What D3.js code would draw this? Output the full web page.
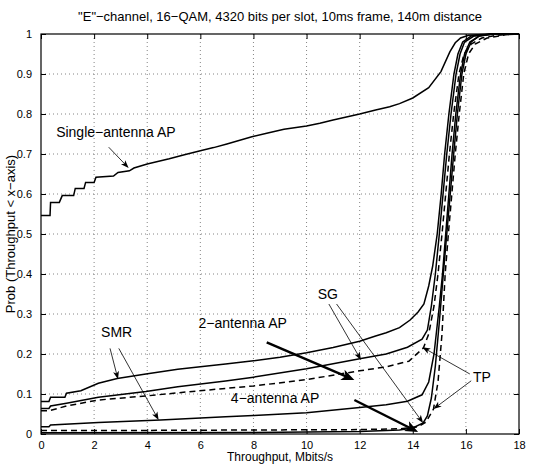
<html>
<script src="https://d3js.org/d3.v7.min.js"></script>
<style>
body { margin: 0; background-color: #fff; }
text { font-family: "Liberation Sans", Arial, Helvetica, sans-serif; fill: #000; }
</style>
<body>
<svg id="chart"></svg>
<script>

// axis ticks
var xTicks = [0, 2, 4, 6, 8, 10, 12, 14, 16, 18];
var yTicks = [0, 0.1, 0.2, 0.3, 0.4, 0.5, 0.6, 0.7, 0.8, 0.9, 1];
var yTickLabels = ["0", "0.1", "0.2", "0.3", "0.4", "0.5", "0.6", "0.7", "0.8", "0.9", "1"];

// CDF curves, [throughput, prob]
var singleAP = [[0,0.546],[0.34,0.546],[0.36,0.579],[0.69,0.579],[0.8,0.596],[1.23,0.596],[1.29,0.614],[1.62,0.614],[1.68,0.629],[2.0,0.629],[2.07,0.642],[2.73,0.645],[2.9,0.654],[3.33,0.658],[3.5,0.665],[4,0.675],[4.83,0.688],[5.4,0.698],[6,0.708],[6.5,0.716],[7,0.725],[7.94,0.743],[8.5,0.752],[9.15,0.762],[10,0.77],[10.5,0.777],[11,0.785],[12,0.8],[12.6,0.81],[13.13,0.818],[13.5,0.826],[14,0.84],[14.6,0.866],[15.06,0.906],[15.4,0.956],[15.6,0.978],[15.8,0.99],[16.1,0.997],[17,1],[18,1]];

var smr2 = [[0,0.081],[0.3,0.081],[0.36,0.092],[0.9,0.092],[0.96,0.102],[1.5,0.108],[2.16,0.127],[2.87,0.139],[3.95,0.15],[5.15,0.162],[6,0.168],[6.95,0.175],[8,0.183],[9,0.192],[10,0.203],[11,0.216],[12,0.232],[12.6,0.245],[13,0.253],[13.5,0.266],[13.9,0.285],[14.2,0.305],[14.42,0.325],[14.6,0.37],[14.75,0.42],[14.92,0.5],[15.07,0.6],[15.2,0.7],[15.36,0.8],[15.55,0.9],[15.7,0.95],[15.88,0.98],[16.2,0.995],[17,1],[18,1]];

var sg2 = [[0,0.064],[0.3,0.064],[0.36,0.07],[0.96,0.077],[2.16,0.092],[3.95,0.106],[5.15,0.118],[6.95,0.1325],[8,0.142],[10,0.163],[12,0.188],[13,0.2],[13.8,0.217],[14.35,0.237],[14.55,0.26],[14.7,0.32],[14.85,0.4],[15.0,0.5],[15.14,0.6],[15.28,0.7],[15.44,0.8],[15.63,0.9],[15.78,0.95],[15.95,0.98],[16.3,0.995],[17,1],[18,1]];

var tp2 = [[0,0.058],[0.3,0.058],[0.96,0.07],[2.16,0.085],[3.95,0.095],[5.15,0.103],[6.95,0.114],[8,0.12],[10,0.136],[12,0.158],[13,0.168],[13.85,0.182],[14.4,0.215],[14.6,0.25],[14.8,0.32],[14.95,0.4],[15.1,0.5],[15.24,0.6],[15.38,0.7],[15.54,0.8],[15.74,0.9],[15.93,0.95],[16.2,0.975],[16.6,0.99],[17.2,0.997],[18,1]];

var smr4 = [[0,0.018],[0.3,0.018],[0.36,0.0225],[2.16,0.029],[4.5,0.035],[6.95,0.043],[8,0.046],[10,0.053],[12,0.066],[13,0.073],[13.8,0.082],[14.35,0.098],[14.6,0.13],[14.8,0.2],[15.0,0.32],[15.12,0.4],[15.24,0.5],[15.36,0.6],[15.48,0.7],[15.62,0.8],[15.8,0.9],[15.95,0.95],[16.15,0.98],[16.5,0.995],[17,1],[18,1]];

var sg4 = [[0,0.003],[8,0.004],[12,0.006],[13.5,0.01],[14,0.015],[14.39,0.0275],[14.55,0.045],[14.7,0.09],[14.85,0.17],[15.0,0.28],[15.15,0.4],[15.28,0.5],[15.41,0.6],[15.54,0.7],[15.68,0.8],[15.85,0.9],[16.0,0.95],[16.2,0.98],[16.5,0.995],[17,1],[18,1]];

var tp4 = [[0,0.009],[4,0.009],[8,0.01],[12,0.011],[13.5,0.013],[14.2,0.018],[14.5,0.03],[14.78,0.0625],[14.95,0.13],[15.1,0.25],[15.22,0.4],[15.34,0.5],[15.47,0.6],[15.6,0.7],[15.75,0.8],[15.92,0.9],[16.1,0.95],[16.35,0.975],[16.8,0.99],[17.5,0.998],[18,1]];

var titleText = "\"E\"\u2212channel, 16\u2212QAM, 4320 bits per slot, 10ms frame, 140m distance";
var xLabel = "Throughput, Mbits/s";
var yLabel = "Prob (Throughput < x\u2212axis)";

// set the dimensions and margins of the graph
var margin = {top: 34, right: 27, bottom: 30, left: 41},
    W = 546, H = 464,
    width = W - margin.left - margin.right,
    height = H - margin.top - margin.bottom;

var svg0 = d3.select("#chart").attr("width", W).attr("height", H);
var svg = svg0.append("g")
    .attr("transform", "translate(" + margin.left + "," + margin.top + ")");

var x = d3.scaleLinear().domain([0, 18]).range([0, width]);
var y = d3.scaleLinear().domain([0, 1]).range([height, 0]);

// dotted grid
svg.append("g").selectAll("line.gx")
  .data(xTicks.slice(1, -1)).enter().append("line")
    .attr("x1", d => x(d)).attr("x2", d => x(d))
    .attr("y1", 0).attr("y2", height)
    .attr("stroke", "#666").attr("stroke-width", 0.8)
    .attr("stroke-dasharray", "1,3");
svg.append("g").selectAll("line.gy")
  .data(yTicks.slice(1, -1)).enter().append("line")
    .attr("y1", d => y(d)).attr("y2", d => y(d))
    .attr("x1", 0).attr("x2", width)
    .attr("stroke", "#666").attr("stroke-width", 0.8)
    .attr("stroke-dasharray", "1,3");

// axes, ticks pointing inward like matlab
function styleAxis(g) {
  g.select(".domain").remove();
  g.selectAll(".tick line").attr("stroke", "#000");
  g.selectAll(".tick text").style("font-size", "11px").style("font-family", "Liberation Sans, Arial, sans-serif");
}
svg.append("g")
  .attr("transform", "translate(0," + height + ")")
  .call(d3.axisBottom(x).tickValues(xTicks).tickSize(-5).tickPadding(7))
  .call(styleAxis);
svg.append("g")
  .call(d3.axisTop(x).tickValues(xTicks).tickSize(-5).tickFormat(""))
  .call(styleAxis);
svg.append("g")
  .call(d3.axisLeft(y).tickValues(yTicks).tickSize(-5).tickPadding(9)
    .tickFormat((d, i) => yTickLabels[i]))
  .call(styleAxis);
svg.append("g")
  .attr("transform", "translate(" + width + ",0)")
  .call(d3.axisRight(y).tickValues(yTicks).tickSize(-5).tickFormat(""))
  .call(styleAxis);

// box
svg.append("rect")
  .attr("width", width).attr("height", height)
  .attr("fill", "none").attr("stroke", "#000").attr("stroke-width", 1.2);

// curves
var line = d3.line().x(d => x(d[0])).y(d => y(d[1]));
var curves = [
  {data: singleAP, dash: null},
  {data: smr2, dash: null},
  {data: sg2, dash: null},
  {data: tp2, dash: "6,4"},
  {data: smr4, dash: null},
  {data: sg4, dash: null},
  {data: tp4, dash: "6,4"}
];
svg.selectAll("path.curve")
  .data(curves).enter().append("path")
    .attr("class", "curve")
    .attr("d", d => line(d.data))
    .attr("fill", "none")
    .attr("stroke", "#000")
    .attr("stroke-width", 1.5)
    .attr("stroke-dasharray", d => d.dash);

// labels inside the plot (data units)
var notes = [
  {text: "Single\u2212antenna AP", x: 0.57, y: 0.754, anchor: "start"},
  {text: "SMR", x: 2.85, y: 0.256, anchor: "middle"},
  {text: "2\u2212antenna AP", x: 5.93, y: 0.277, anchor: "start"},
  {text: "4\u2212antenna AP", x: 7.15, y: 0.09, anchor: "start"},
  {text: "SG", x: 10.8, y: 0.35, anchor: "middle"},
  {text: "TP", x: 16.6, y: 0.142, anchor: "middle"}
];
svg.selectAll("text.note")
  .data(notes).enter().append("text")
    .attr("class", "note")
    .attr("x", d => x(d.x)).attr("y", d => y(d.y))
    .attr("dy", "0.36em")
    .attr("text-anchor", d => d.anchor)
    .style("font-size", "14px")
    .text(d => d.text);

// arrows [x1,y1,x2,y2] in data units
var thinArrows = [
  [2.55, 0.717, 3.3, 0.665],
  [2.6, 0.214, 2.9, 0.137],
  [2.93, 0.214, 4.43, 0.035],
  [10.84, 0.325, 12.05, 0.185],
  [11.13, 0.325, 14.39, 0.0275],
  [16.15, 0.15, 14.36, 0.217],
  [16.2, 0.133, 14.78, 0.0625]
];
var thickArrows = [
  [8.5, 0.229, 11.8, 0.135],
  [11.8, 0.085, 14.2, 0.005]
];

function drawArrow(a, w, len, half) {
  var x1 = x(a[0]), y1 = y(a[1]), x2 = x(a[2]), y2 = y(a[3]);
  var dx = x2 - x1, dy = y2 - y1, L = Math.sqrt(dx*dx + dy*dy);
  var ux = dx / L, uy = dy / L;
  var bx = x2 - ux*len, by = y2 - uy*len;
  svg.append("line")
    .attr("x1", x1).attr("y1", y1)
    .attr("x2", x2 - ux*len*0.6).attr("y2", y2 - uy*len*0.6)
    .attr("stroke", "#000").attr("stroke-width", w);
  var pts = [
    [x2, y2],
    [bx - uy*half, by + ux*half],
    [x2 - ux*len*0.75, y2 - uy*len*0.75],
    [bx + uy*half, by - ux*half]
  ];
  svg.append("polygon")
    .attr("points", pts.map(p => p.join(",")).join(" "))
    .attr("fill", "#000");
}
thinArrows.forEach(a => drawArrow(a, 0.8, 8, 3));
thickArrows.forEach(a => drawArrow(a, 2.5, 13, 5.5));

// title and axis labels
svg0.append("text")
  .attr("x", margin.left + width / 2).attr("y", 21)
  .attr("text-anchor", "middle")
  .style("font-size", "13px")
  .text(titleText);

svg0.append("text")
  .attr("x", margin.left + width / 2).attr("y", 461)
  .attr("text-anchor", "middle")
  .style("font-size", "12px")
  .text(xLabel);

svg0.append("text")
  .attr("transform", "translate(15," + (margin.top + height / 2) + ")rotate(-90)")
  .attr("text-anchor", "middle")
  .style("font-size", "13px")
  .text(yLabel);

</script>
</body>
</html>
